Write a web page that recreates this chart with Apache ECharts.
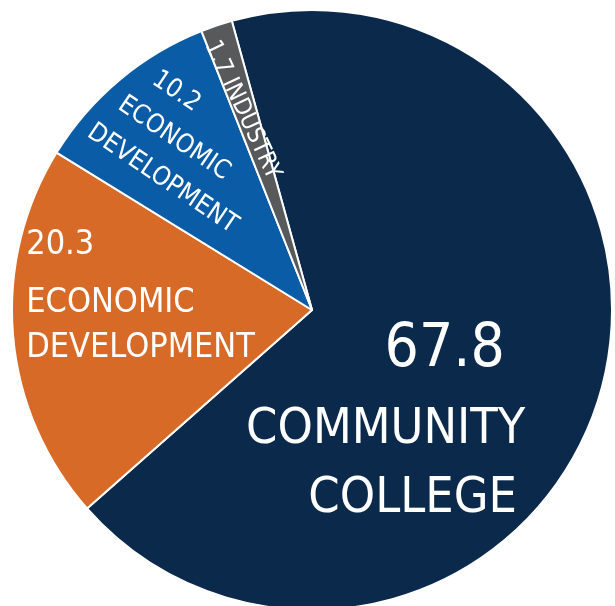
<!DOCTYPE html>
<html>
<head>
<meta charset="utf-8">
<script src="https://cdn.jsdelivr.net/npm/echarts@6/dist/echarts.min.js"></script>
<style>
  html, body { margin: 0; padding: 0; background: #fff; }
  #chart { width: 615px; height: 606px; }
</style>
</head>
<body>
<div id="chart"></div>
<script>
const names = ['COMMUNITY\nCOLLEGE', 'ECONOMIC\nDEVELOPMENT', 'ECONOMIC\nDEVELOPMENT', 'INDUSTRY']
const values = [67.8, 20.3, 10.2, 1.7]
const colors = ['#0b2a4b', '#d86a28', '#0a5ca7', '#58595b']

const FONT = '"DejaVu Sans Condensed", "Liberation Sans Narrow", sans-serif'

// label tweaks per slice; dx/dy are screen offsets from the default inside spot
const labelTweaks = [
  {
    rotate: 0, dx: -73, dy: 66,
    formatter: (p) => `{v|${p.value}}\n{n1|COMMUNITY}\n{n2|COLLEGE}`,
    rich: {
      v: { fontSize: 60, lineHeight: 89, padding: [0, 0, 0, 118] },
      n1: { fontSize: 50, lineHeight: 69 },
      n2: { fontSize: 50, lineHeight: 69, padding: [0, 0, 0, 54] },
    },
  },
  {
    rotate: 0, dx: -19, dy: -33,
    formatter: (p) => `{v|${p.value}}\n{n|ECONOMIC}\n{n|DEVELOPMENT}`,
    rich: {
      v: { fontSize: 34, lineHeight: 71, align: 'left' },
      n: { fontSize: 34, lineHeight: 45, align: 'left' },
    },
  },
  {
    rotate: -34, dx: -29, dy: -47,
    formatter: (p) => `{v|${p.value}}\n{e|ECONOMIC}\n{n|DEVELOPMENT}`,
    rich: {
      v: { fontSize: 26, lineHeight: 40, align: 'left', padding: [0, 0, 0, 24] },
      e: { fontSize: 26, lineHeight: 40, align: 'left', padding: [0, 0, 0, 10] },
      n: { fontSize: 26, lineHeight: 40, align: 'left' },
    },
  },
  {
    rotate: -65, dx: -21, dy: -55,
    formatter: (p) => `{v|${p.value} INDUSTRY}`,
    rich: {
      v: { fontSize: 24, lineHeight: 28 },
    },
  },
]

// labelLayout offsets are applied in the label's rotated frame, so undo the rotation
function localOffset(t) {
  const r = (t.rotate * Math.PI) / 180
  return {
    dx: t.dx * Math.cos(r) - t.dy * Math.sin(r),
    dy: t.dx * Math.sin(r) + t.dy * Math.cos(r),
  }
}

const chart = echarts.init(document.getElementById('chart'), null, { renderer: 'canvas' })

chart.setOption({
  animation: false,
  series: [
    {
      type: 'pie',
      center: [312, 310],
      radius: [0, 300],
      startAngle: 105.5,
      clockwise: true,
      silent: true,
      itemStyle: { borderColor: '#ffffff', borderWidth: 2 },
      labelLine: { show: false },
      labelLayout: (params) => localOffset(labelTweaks[params.dataIndex]),
      data: values.map((v, i) => ({
        value: v,
        name: names[i],
        itemStyle: { color: colors[i] },
        label: {
          show: true,
          position: 'inside',
          color: '#ffffff',
          fontFamily: FONT,
          rotate: labelTweaks[i].rotate,
          formatter: labelTweaks[i].formatter,
          rich: Object.fromEntries(
            Object.entries(labelTweaks[i].rich).map(([k, s]) => [k, { color: '#ffffff', fontFamily: FONT, ...s }])
          ),
        },
      })),
    },
  ],
})
</script>
</body>
</html>
